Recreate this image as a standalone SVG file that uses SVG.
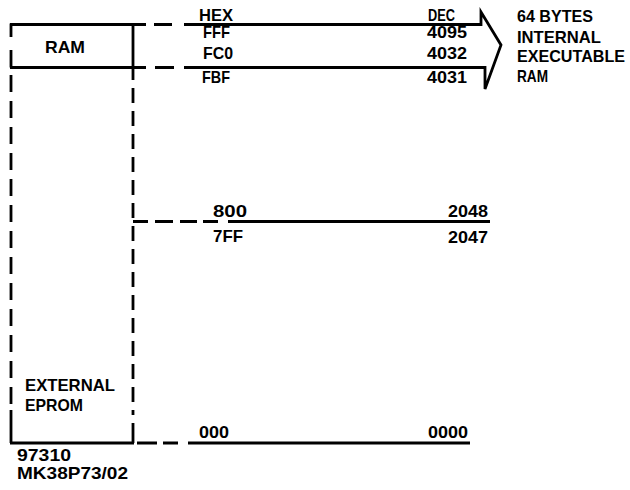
<svg xmlns="http://www.w3.org/2000/svg" width="630" height="490" viewBox="0 0 630 490">
<style>
.t{font-family:"Liberation Sans",Arial,sans-serif;font-weight:bold;font-size:16.5px;fill:#000}
.ln{stroke:#000;stroke-width:2.8;fill:none;stroke-linecap:butt;stroke-linejoin:miter}
</style>
<rect width="630" height="490" fill="#fff"/>
<g id="ram-block">
<path class="ln" d="M10,24.5 H146 M10,67.5 H146 M11,23.5 V37 M11,50 V67.5 M133,23.5 V80"/>
<text class="t" x="45" y="53" textLength="40" lengthAdjust="spacingAndGlyphs">RAM</text>
</g>
<g id="eprom-block">
<path class="ln" d="M11,75 V404" stroke-dasharray="17 9"/>
<path class="ln" d="M133,88 V415" stroke-dasharray="15 8"/>
<path class="ln" d="M11,410 V443 M10,443 H134 M133,423 V443"/>
<text class="t" x="25" y="391" textLength="90" lengthAdjust="spacingAndGlyphs">EXTERNAL</text>
<text class="t" x="25" y="411" textLength="58" lengthAdjust="spacingAndGlyphs">EPROM</text>
</g>
<g id="connectors">
<path class="ln" d="M154,24.5 H172 M155,67.5 H174"/>
<path class="ln" d="M184,24.5 H481 V12 L501,45 L485,89 V67.5 H184"/>
<path class="ln" d="M133,221.5 H148 M155,221.5 H173 M180,221.5 H197 M203,221.5 H218 M228,221.5 H490"/>
<path class="ln" d="M137,443 H157 M163,443 H178 M188,443 H470"/>
</g>
<g id="labels-hex">
<text class="t" x="199" y="21" textLength="34" lengthAdjust="spacingAndGlyphs">HEX</text>
<text class="t" x="203" y="38" textLength="27" lengthAdjust="spacingAndGlyphs">FFF</text>
<text class="t" x="203" y="59" textLength="30" lengthAdjust="spacingAndGlyphs">FC0</text>
<text class="t" x="202" y="83" textLength="28" lengthAdjust="spacingAndGlyphs">FBF</text>
<text class="t" x="213" y="217" textLength="34" lengthAdjust="spacingAndGlyphs">800</text>
<text class="t" x="213" y="242" textLength="30" lengthAdjust="spacingAndGlyphs">7FF</text>
<text class="t" x="199" y="438" textLength="30" lengthAdjust="spacingAndGlyphs">000</text>
</g>
<g id="labels-dec">
<text class="t" x="428" y="21" textLength="27" lengthAdjust="spacingAndGlyphs">DEC</text>
<text class="t" x="427" y="38" textLength="40" lengthAdjust="spacingAndGlyphs">4095</text>
<text class="t" x="427" y="59" textLength="40" lengthAdjust="spacingAndGlyphs">4032</text>
<text class="t" x="427" y="83" textLength="40" lengthAdjust="spacingAndGlyphs">4031</text>
<text class="t" x="448" y="217" textLength="40" lengthAdjust="spacingAndGlyphs">2048</text>
<text class="t" x="448" y="243" textLength="40" lengthAdjust="spacingAndGlyphs">2047</text>
<text class="t" x="428" y="438" textLength="40" lengthAdjust="spacingAndGlyphs">0000</text>
</g>
<g id="note-internal-ram">
<text class="t" x="517" y="22" textLength="76" lengthAdjust="spacingAndGlyphs">64 BYTES</text>
<text class="t" x="517" y="43" textLength="84" lengthAdjust="spacingAndGlyphs">INTERNAL</text>
<text class="t" x="517" y="62" textLength="108" lengthAdjust="spacingAndGlyphs">EXECUTABLE</text>
<text class="t" x="517" y="82" textLength="31" lengthAdjust="spacingAndGlyphs">RAM</text>
</g>
<g id="figure-id">
<text class="t" x="17" y="461" textLength="54" lengthAdjust="spacingAndGlyphs">97310</text>
<text class="t" x="17" y="479" textLength="111" lengthAdjust="spacingAndGlyphs">MK38P73/02</text>
</g>
</svg>
